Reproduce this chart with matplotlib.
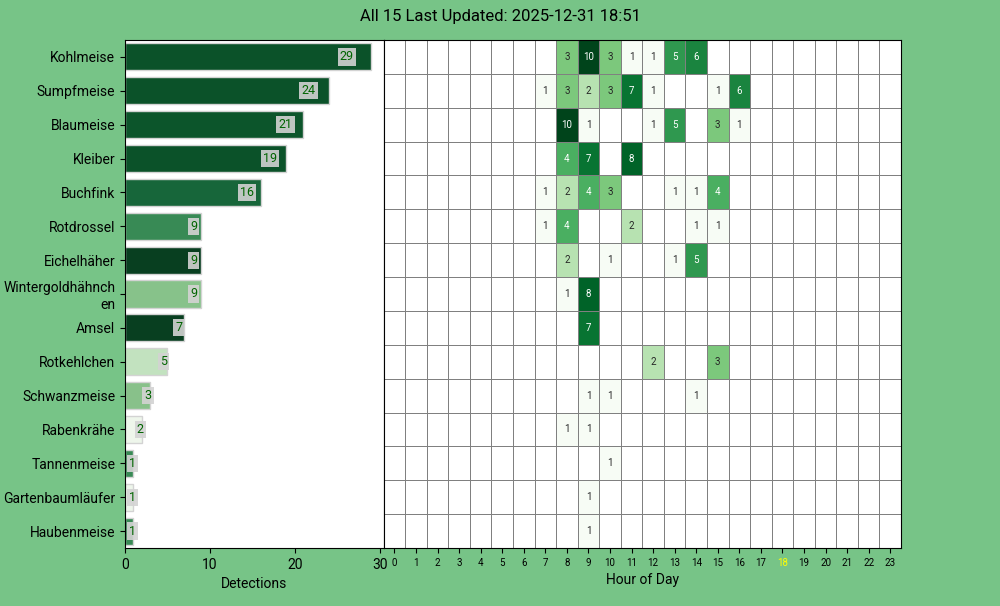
import textwrap
import numpy as np
import pandas as pd
import matplotlib
matplotlib.use('Agg')
import matplotlib.pyplot as plt
import seaborn as sns
from matplotlib.colors import LogNorm

plt.rcParams['font.family'] = ['Roboto', 'DejaVu Sans']

# Daten
species = ['Kohlmeise', 'Sumpfmeise', 'Blaumeise', 'Kleiber', 'Buchfink',
           'Rotdrossel', 'Eichelhäher', 'Wintergoldhähnchen', 'Amsel',
           'Rotkehlchen', 'Schwanzmeise', 'Rabenkrähe', 'Tannenmeise',
           'Gartenbaumläufer', 'Haubenmeise']
detections = [29, 24, 21, 19, 16, 9, 9, 9, 7, 5, 3, 2, 1, 1, 1]
bar_colors = ['#0b5229', '#0b5229', '#0c552b', '#0b5229', '#17663a',
              '#388a55', '#083f20', '#87c28a', '#083f20', '#c2e2bf',
              '#88c18a', '#eef6eb', '#388a55', '#eef6eb', '#388a55']
# Erkennungen pro Stunde {Stunde: Anzahl}
hourly = [
    {8: 3, 9: 10, 10: 3, 11: 1, 12: 1, 13: 5, 14: 6},
    {7: 1, 8: 3, 9: 2, 10: 3, 11: 7, 12: 1, 15: 1, 16: 6},
    {8: 10, 9: 1, 12: 1, 13: 5, 15: 3, 16: 1},
    {8: 4, 9: 7, 11: 8},
    {7: 1, 8: 2, 9: 4, 10: 3, 13: 1, 14: 1, 15: 4},
    {7: 1, 8: 4, 11: 2, 14: 1, 15: 1},
    {8: 2, 10: 1, 13: 1, 14: 5},
    {8: 1, 9: 8},
    {9: 7},
    {12: 2, 15: 3},
    {9: 1, 10: 1, 14: 1},
    {8: 1, 9: 1},
    {10: 1},
    {9: 1},
    {9: 1},
]
hours = list(range(24))
current_hour = 18
title = 'All 15 Last Updated: 2025-12-31 18:51'

heat = pd.DataFrame(np.nan, index=species, columns=hours)
for name, h in zip(species, hourly):
    for hr, n in h.items():
        heat.loc[name, hr] = n

fig = plt.figure(figsize=(10, 6.06), dpi=100, facecolor='#77C487')
gs = fig.add_gridspec(1, 2, width_ratios=[1, 2], wspace=0,
                      left=0.125, right=0.901, top=1 - 40 / 606, bottom=1 - 548 / 606)
ax0 = fig.add_subplot(gs[0])
ax1 = fig.add_subplot(gs[1])

# Balken
y = np.arange(len(species))
ax0.barh(y, detections, height=0.8, color=bar_colors, edgecolor='lightgrey')
ax0.set_ylim(len(species) - 0.5, -0.5)
ax0.set_xlim(0, max(detections) * 1.05)
ax0.set_yticks(y)
ax0.set_yticklabels([textwrap.fill(s, 16) for s in species], fontsize=10)
ax0.set_xlabel('Detections', fontsize=10)
ax0.tick_params(axis='x', labelsize=10)
for yi, v in zip(y, detections):
    ax0.text(v * 0.9, yi, str(v), ha='center', va='center', fontsize=9,
             color='darkgreen',
             bbox=dict(facecolor='lightgrey', edgecolor='none', pad=1.5, alpha=0.9))

# Heatmap
sns.heatmap(heat, norm=LogNorm(vmin=1, vmax=10), annot=True,
            annot_kws={'fontsize': 7}, fmt='g', cmap='Greens', square=False,
            cbar=False, linewidths=0.5, linecolor='grey', ax=ax1,
            yticklabels=False)
for s in ax1.spines.values():
    s.set_visible(True)
ax1.set_xticks(np.arange(24) + 0.5)
ax1.set_xticklabels([str(h) for h in hours], rotation=0, fontsize=7)
ax1.get_xticklabels()[current_hour].set_color('yellow')
ax1.set_xlabel('Hour of Day', fontsize=10)
ax1.set_ylabel('')

fig.suptitle(title, fontsize=12, y=0.972, va='center')
plt.savefig('out.png', facecolor=fig.get_facecolor())
